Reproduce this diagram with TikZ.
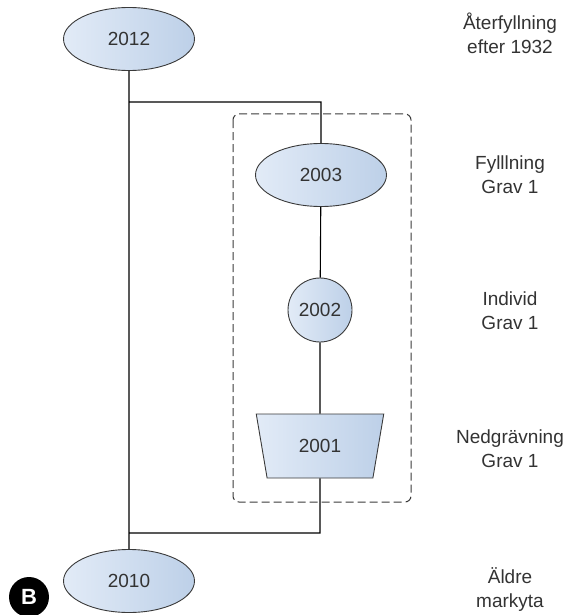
\documentclass[tikz,border=0pt]{standalone}
\usepackage{fontspec}
\setmainfont{Liberation Sans}
\usetikzlibrary{shapes.geometric}
\definecolor{fillL}{HTML}{E2EBF7}
\definecolor{fillR}{HTML}{BDD0E8}
\definecolor{edgeC}{HTML}{3A3A3A}
\definecolor{textC}{HTML}{333333}
\begin{document}
\begin{tikzpicture}[x=1pt, y=-1pt,
                every node/.style={font=\fontsize{19}{24}\selectfont, text=textC},
                unit/.style={draw=edgeC, line width=0.9pt, left color=fillL, right color=fillR},
                layer/.style={unit, ellipse, minimum width=131pt, minimum height=63pt},
                find/.style={unit, circle, minimum size=64pt, inner sep=0pt},
                cut/.style={unit, trapezium, trapezium stretches=true, trapezium angle=76,
                            shape border rotate=180, minimum width=128pt, minimum height=64pt},
                note/.style={align=center},
                link/.style={draw, line width=1.1pt}]
                
                \useasboundingbox (0,0) rectangle (572,615);
                
                % grave context
                \draw[dashed, draw=edgeC, line width=1pt, rounded corners=6pt, dash pattern=on 8pt off 4pt]
                    (233,114) rectangle (411,502);
                
                \node[layer] (e2012) at (129,39) {2012};
                \node[layer] (e2003) at (321,175) {2003};
                \node[find]  (c2002) at (320,310) {2002};
                \node[cut]   (t2001) at (320,446) {2001};
                \node[layer] (e2010) at (129,581) {2010};
                
                \coordinate (jtop) at (129,102);
                \coordinate (jbot) at (129,533);
                
                \path[link]
                    (e2012) -- (e2010) % main sequence
                    (jtop) -| (e2003)
                    (e2003) -- (c2002)
                    (c2002) -- (t2001)
                    (t2001) |- (jbot);
                
                \node[note] (n2012) at (510,33) {Återfyllning\\efter 1932};
                \node[note] (n2003) at (510,175) {Fylllning\\Grav 1};
                \node[note] (n2002) at (510,311) {Individ\\Grav 1};
                \node[note] (n2001) at (510,449) {Nedgrävning\\Grav 1};
                \node[note] (n2010) at (510,590) {Äldre\\markyta};
                
                \node[circle, fill=black, minimum size=40pt, inner sep=0pt, text=white,
                      font=\fontsize{22}{22}\selectfont\bfseries] (mark) at (29,597) {B};
                
                \end{tikzpicture}
\end{document}
